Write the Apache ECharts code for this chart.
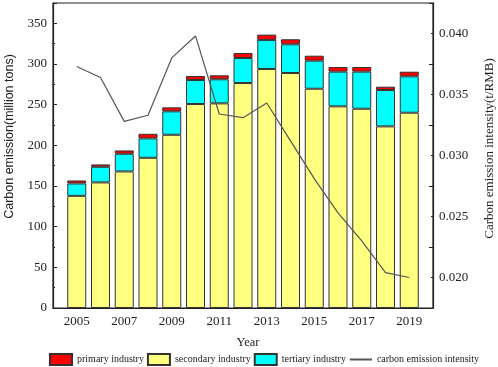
<!DOCTYPE html>
<html>
<head>
<meta charset="utf-8">
<script src="https://cdn.jsdelivr.net/npm/echarts@6/dist/echarts.min.js"></script>
<style>html,body{margin:0;padding:0;background:#fff}#c{width:498px;height:367px}</style>
</head>
<body>
<div id="c"></div>
<script>
const years = ['2005','2006','2007','2008','2009','2010','2011','2012','2013','2014','2015','2016','2017','2018','2019'];
const primary = [3.7, 2.9, 4.1, 5.7, 4.9, 4.9, 4.9, 6.2, 6.5, 6.2, 6.1, 5.7, 5.7, 4.1, 5.7];
const secondary = [137.9, 154.4, 167.9, 184.7, 213.0, 250.8, 251.6, 276.6, 293.9, 288.9, 269.6, 247.9, 245.0, 223.3, 240.1];
const tertiary = [15.2, 19.2, 21.7, 23.8, 28.8, 29.5, 29.6, 30.8, 35.7, 35.3, 34.5, 42.7, 45.6, 44.7, 44.7];
const intensity = [0.0373, 0.0364, 0.0328, 0.0333, 0.0380, 0.0398, 0.0334, 0.0331, 0.0343, 0.0312, 0.0281, 0.0253, 0.0230, 0.0204, 0.0200];
const leftTicks = [0, 50, 100, 150, 200, 250, 300, 350];
const rightTicks = ['0.020', '0.025', '0.030', '0.035', '0.040'];

const cats = ['2004'].concat(years, ['2020']);
const pad = a => [null].concat(a, [null]);
const serif = "'Liberation Serif','Times New Roman',serif";
const dark = '#222';

const chart = echarts.init(document.getElementById('c'), null, {renderer: 'canvas'});
const barBase = {type: 'bar', stack: 'a', barWidth: 19, xAxisIndex: 0, yAxisIndex: 0};
const option = {
  animation: false,
  grid: {left: 53, right: 65, top: 3, bottom: 59, outerBoundsMode: 'none', containLabel: false,
    show: true, borderColor: dark, borderWidth: 1.2, backgroundColor: 'transparent'},
  legend: {
    left: 49, top: 353, padding: 0, itemWidth: 22, itemHeight: 11, itemGap: 3,
    textStyle: {fontFamily: serif, fontSize: 10, color: '#222'},
    data: [
      {name: 'primary industry', icon: 'rect'},
      {name: 'secondary industry', icon: 'rect'},
      {name: 'tertiary industry', icon: 'rect'},
      {name: 'carbon emission intensity',
        itemStyle: {color: 'rgba(0,0,0,0)', borderColor: 'rgba(0,0,0,0)', borderWidth: 0}}
    ]
  },
  xAxis: [{
    type: 'category', data: cats, boundaryGap: false, position: 'bottom',
    name: 'Year', nameLocation: 'middle', nameGap: 28,
    nameTextStyle: {fontFamily: serif, fontSize: 12.5, color: '#222', padding: [0, 0, 0, 10]},
    axisLine: {show: true, lineStyle: {color: dark, width: 1.2}},
    axisTick: {show: true, inside: true, length: 4, interval: (i) => i % 2 === 1, lineStyle: {color: dark}},
    axisLabel: {interval: (i) => i % 2 === 1, margin: 7, fontFamily: serif, fontSize: 13, color: '#222'},
    splitLine: {show: false}
  }, {
    type: 'category', data: cats, boundaryGap: false, position: 'bottom',
    axisLine: {show: false},
    axisTick: {show: true, inside: true, length: 2, interval: (i) => i % 2 === 0 && i > 0 && i < cats.length - 1, lineStyle: {color: dark}},
    axisLabel: {show: false}, splitLine: {show: false}
  }],
  yAxis: [{
    type: 'value', position: 'left', min: 0, max: 375, interval: 25,
    name: 'Carbon emission(million tons)', nameLocation: 'middle', nameGap: 37,
    nameTextStyle: {fontFamily: "'Liberation Sans',Arial,sans-serif", fontSize: 12.5, color: '#222', padding: [0, 0, 0, 38]},
    axisLine: {show: true, lineStyle: {color: dark, width: 1.2}},
    axisTick: {show: true, inside: true, length: 2, lineStyle: {color: dark}},
    axisLabel: {margin: 6, fontFamily: serif, fontSize: 13, color: '#222',
      formatter: (v) => leftTicks.indexOf(Math.round(v)) >= 0 ? String(Math.round(v)) : ''},
    splitLine: {show: false}
  }, {
    type: 'value', position: 'right', min: 0.0175, max: 0.0425, interval: 0.0025,
    name: 'Carbon emission intensity(t/RMB)', nameLocation: 'middle', nameGap: 50,
    nameTextStyle: {fontFamily: serif, fontSize: 13, color: '#222', padding: [0, 0, 0, 14]},
    axisLine: {show: true, lineStyle: {color: dark, width: 1.2}},
    axisTick: {show: true, inside: true, length: 2, lineStyle: {color: dark}},
    axisLabel: {margin: 6, fontFamily: serif, fontSize: 13, color: '#222',
      formatter: (v) => { const s = (Math.round(v * 10000) / 10000).toFixed(3); return (rightTicks.indexOf(s) >= 0 && Math.abs(v - parseFloat(s)) < 1e-6) ? s : ''; }},
    splitLine: {show: false}
  }, {
    type: 'value', position: 'left', min: 0, max: 375, interval: 50,
    axisLine: {show: false}, axisTick: {show: true, inside: true, length: 4, lineStyle: {color: dark}},
    axisLabel: {show: false}, splitLine: {show: false}
  }, {
    type: 'value', position: 'right', min: 0.0175, max: 0.0425, interval: 0.005,
    axisLine: {show: false}, axisTick: {show: true, inside: true, length: 4, lineStyle: {color: dark}},
    axisLabel: {show: false}, splitLine: {show: false}
  }],
  series: [
    Object.assign({}, barBase, {name: 'secondary industry', data: pad(secondary), itemStyle: {color: '#FFFF80', borderColor: '#333', borderWidth: 1}}),
    Object.assign({}, barBase, {name: 'tertiary industry', data: pad(tertiary), itemStyle: {color: '#00FFFF', borderColor: '#333', borderWidth: 1}}),
    Object.assign({}, barBase, {name: 'primary industry', data: pad(primary), itemStyle: {color: '#FF0000', borderColor: '#333', borderWidth: 1}}),
    {type: 'line', name: 'carbon emission intensity', xAxisIndex: 0, yAxisIndex: 1, data: pad(intensity),
      symbol: 'none', lineStyle: {color: '#555', width: 1.2}, itemStyle: {color: '#555'}}
  ]
};
chart.setOption(option);
</script>
</body>
</html>
